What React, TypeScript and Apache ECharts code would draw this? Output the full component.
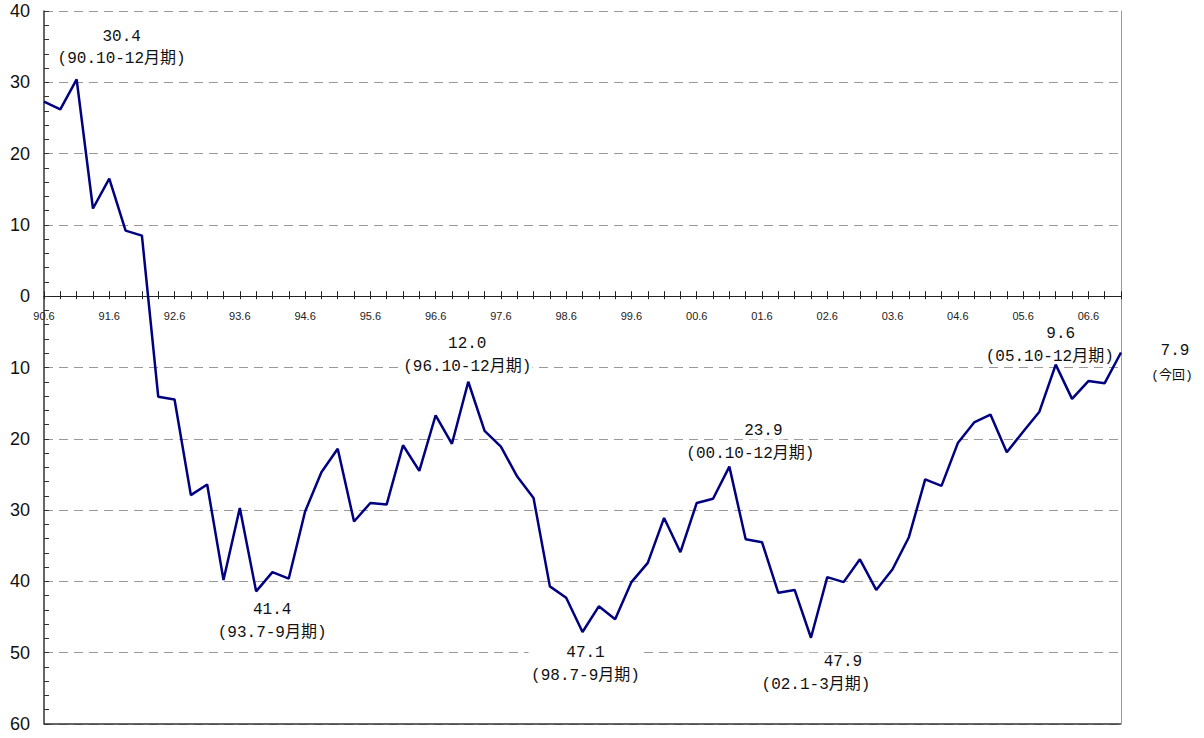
import React, { useEffect, useRef } from "react";
import * as echarts from "echarts";

const categories: string[] = [
  "90.6", "90.9", "90.12",
  "91.3", "91.6", "91.9", "91.12",
  "92.3", "92.6", "92.9", "92.12",
  "93.3", "93.6", "93.9", "93.12",
  "94.3", "94.6", "94.9", "94.12",
  "95.3", "95.6", "95.9", "95.12",
  "96.3", "96.6", "96.9", "96.12",
  "97.3", "97.6", "97.9", "97.12",
  "98.3", "98.6", "98.9", "98.12",
  "99.3", "99.6", "99.9", "99.12",
  "00.3", "00.6", "00.9", "00.12",
  "01.3", "01.6", "01.9", "01.12",
  "02.3", "02.6", "02.9", "02.12",
  "03.3", "03.6", "03.9", "03.12",
  "04.3", "04.6", "04.9", "04.12",
  "05.3", "05.6", "05.9", "05.12",
  "06.3", "06.6", "06.9", "06.12",
];

const values: number[] = [
  27.3, 26.2, 30.4,
  12.3, 16.5, 9.2, 8.5,
  -14.1, -14.5, -27.9, -26.4,
  -39.8, -29.7, -41.4, -38.7,
  -39.6, -30.2, -24.7, -21.4,
  -31.6, -29.0, -29.2, -20.9,
  -24.5, -16.7, -20.7, -12.0,
  -18.9, -21.1, -25.3, -28.3,
  -40.7, -42.3, -47.1, -43.5,
  -45.3, -40.1, -37.4, -31.1,
  -35.9, -29.0, -28.4, -23.9,
  -34.1, -34.5, -41.6, -41.2,
  -47.9, -39.4, -40.1, -36.9,
  -41.2, -38.3, -33.8, -25.7,
  -26.6, -20.6, -17.7, -16.6,
  -21.9, -19.0, -16.2, -9.6,
  -14.4, -11.9, -12.2, -7.9,
];

const yMin = -60;
const yMax = 40;

// annotations: index into data, value line text, period line text
const annIndex: number[] = [2, 13, 26, 33, 42, 47, 62, 66];
const annValueText: string[] = ["30.4", "41.4", "12.0", "47.1", "23.9", "47.9", "9.6", "7.9"];
const annPeriodText: string[] = [
  "(90.10-12月期)", "(93.7-9月期)", "(96.10-12月期)", "(98.7-9月期)",
  "(00.10-12月期)", "(02.1-3月期)", "(05.10-12月期)", "(今回)",
];

// label offsets (style)
const valueOffsets: [number, number][] = [
  [45, -42], [16, 19], [-1, -38], [3, 21], [34, -36], [32, 24], [5, -31], [54, -2],
];
const periodOffsets: [number, number][] = [
  [45, -20], [16, 42], [-1, -15], [3, 44], [21, -13], [5, 47], [-6, -8], [51, 23],
];
const valueWidths: (number | undefined)[] = [undefined, undefined, undefined, 112, undefined, 115, undefined, undefined];

const FONT = "'Liberation Mono', 'Noto Sans CJK JP', monospace";
const AXIS_FONT = "'Liberation Sans', Arial, sans-serif";

const GRID_TOP = 11;
const GRID_BOTTOM = 14;
const CHART_H = 738;

export default function App() {
  const ref = useRef<HTMLDivElement>(null);

  useEffect(() => {
    if (!ref.current) return;
    const chart = echarts.init(ref.current, undefined, { renderer: "svg" });

    // position of zero line inside the grid (layout only)
    const gridH = CHART_H - GRID_TOP - GRID_BOTTOM;
    const zeroFromTop = (gridH * yMax) / (yMax - yMin);
    const zeroFromBottom = gridH - zeroFromTop;

    const markData: any[] = [];
    annIndex.forEach((idx, k) => {
      const isLast = k === annIndex.length - 1;
      markData.push({
        coord: [idx, values[idx]],
        symbol: "circle",
        symbolSize: 0,
        label: {
          show: true,
          position: "inside",
          formatter: annValueText[k],
          offset: valueOffsets[k],
          fontFamily: FONT,
          fontSize: 16,
          color: "#111",
          align: "center",
          verticalAlign: "middle",
          backgroundColor: "#fff",
          padding: [1, 1],
          width: valueWidths[k],
        },
      });
      markData.push({
        coord: [idx, values[idx]],
        symbol: "circle",
        symbolSize: 0,
        label: {
          show: true,
          position: "inside",
          formatter: annPeriodText[k],
          offset: periodOffsets[k],
          fontFamily: FONT,
          fontSize: isLast ? 13 : 16,
          color: "#111",
          align: "center",
          verticalAlign: "middle",
          backgroundColor: "#fff",
          padding: [1, 1],
        },
      });
    });

    chart.setOption({
      animation: false,
      backgroundColor: "#fff",
      grid: { left: 44, right: 83, top: GRID_TOP, bottom: GRID_BOTTOM, containLabel: false },
      xAxis: [
        {
          type: "category",
          data: categories,
          boundaryGap: false,
          position: "bottom",
          offset: -zeroFromBottom,
          axisLine: { show: true, onZero: false, lineStyle: { color: "#222", width: 1.2 } },
          axisTick: { show: true, interval: 0, length: 3, inside: false, lineStyle: { color: "#222" } },
          axisLabel: {
            interval: 3,
            fontSize: 11,
            fontFamily: AXIS_FONT,
            color: "#222",
            margin: 14,
          },
          splitLine: { show: false },
        },
        {
          type: "category",
          data: categories,
          boundaryGap: false,
          position: "top",
          offset: -zeroFromTop,
          axisLine: { show: true, onZero: false, lineStyle: { color: "#222", width: 1.2 } },
          axisTick: { show: true, interval: 0, length: 5, inside: false, lineStyle: { color: "#222" } },
          axisLabel: { show: false },
          splitLine: { show: false },
        },
      ],
      yAxis: [
        {
          type: "value",
          min: yMin,
          max: yMax,
          interval: 10,
          position: "left",
          axisLine: { show: true, onZero: false, lineStyle: { color: "#333", width: 1.5 } },
          axisTick: { show: true, inside: true, length: 5, lineStyle: { color: "#333" } },
          minorTick: { show: true, splitNumber: 5, length: 5, lineStyle: { color: "#333" } },
          axisLabel: {
            formatter: (v: number) => String(Math.abs(v)),
            fontSize: 18,
            fontFamily: AXIS_FONT,
            color: "#111",
            margin: 14,
          },
          splitLine: { show: true, lineStyle: { color: "#999", type: [9, 6], width: 1 } },
        },
        {
          type: "value",
          min: yMin,
          max: yMax,
          interval: 10,
          position: "right",
          axisLine: { show: true, onZero: false, lineStyle: { color: "#999", width: 1 } },
          axisTick: { show: false },
          axisLabel: { show: false },
          splitLine: { show: false },
        },
      ],
      series: [
        {
          type: "line",
          data: values,
          xAxisIndex: 0,
          yAxisIndex: 0,
          showSymbol: false,
          symbol: "none",
          lineStyle: { color: "#000080", width: 2.5 },
          z: 3,
          markPoint: {
            data: markData,
            animation: false,
            z: 1,
          },
          markLine: {
            silent: true,
            symbol: "none",
            animation: false,
            label: { show: false },
            lineStyle: { color: "#333", type: "solid", width: 1.5 },
            data: [{ yAxis: yMin }],
            z: 2,
          },
        },
      ],
    });

    return () => chart.dispose();
  }, []);

  return (
    <div
      ref={ref}
      style={{ position: "fixed", left: 0, top: 0, width: 1204, height: CHART_H }}
    />
  );
}
